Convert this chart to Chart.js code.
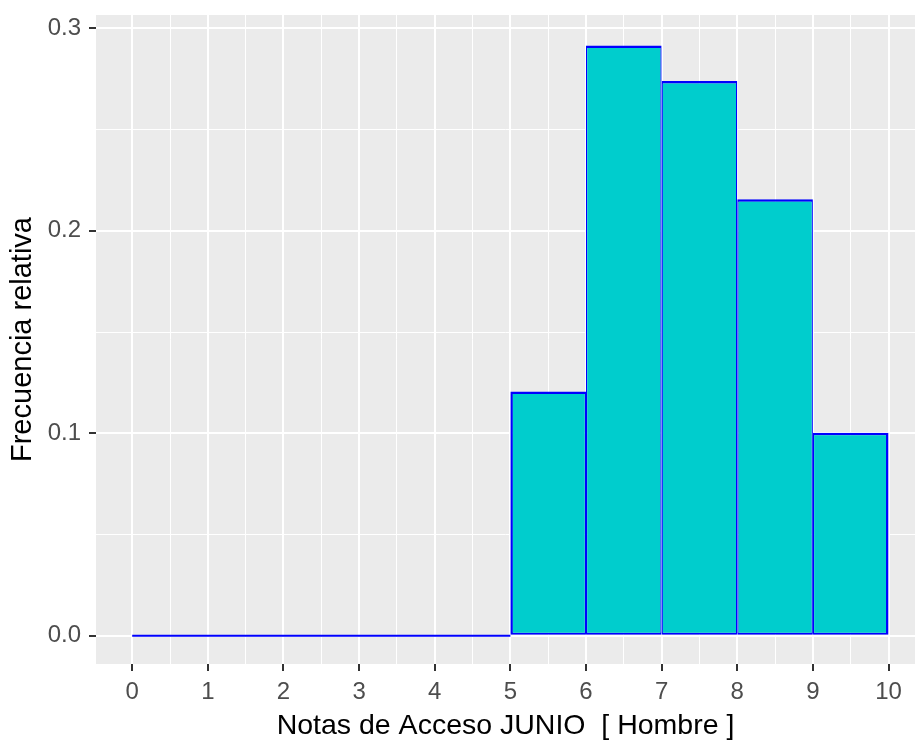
<!DOCTYPE html>
<html>
<head>
<meta charset="utf-8">
<script src="https://cdn.jsdelivr.net/npm/chart.js@4/dist/chart.umd.min.js"></script>
<style>
  body { margin: 0; background: #fff; }
  canvas { display: block; }
</style>
</head>
<body>
<canvas id="hist_chart" width="915" height="743"></canvas>
<script>
// bins of width 1, start of each bin
var binStarts = [0, 1, 2, 3, 4, 5, 6, 7, 8, 9];
var relFreq = [0, 0, 0, 0, 0, 0.1206, 0.2915, 0.2740, 0.2156, 0.1002];
var xTicks = [0, 1, 2, 3, 4, 5, 6, 7, 8, 9, 10];
var yTicks = [0.0, 0.1, 0.2, 0.3];

var fontFamily = "'Liberation Sans', Arial, sans-serif";

var barPoints = [];
var zeroPoints = [];
for (var i = 0; i < binStarts.length; i++) {
    if (relFreq[i] > 0) {
        barPoints.push({ x: binStarts[i] + 0.5, y: relFreq[i] });
    } else {
        zeroPoints.push({ x: binStarts[i], y: 0 });
        zeroPoints.push({ x: binStarts[i] + 1, y: 0 });
    }
}

function isMajor(list, v) {
    for (var i = 0; i < list.length; i++) {
        if (Math.abs(list[i] - v) < 1e-9) return true;
    }
    return false;
}

// major ticks plus the half steps between them (minor grid)
function withMinor(list, scale) {
    var step = list[1] - list[0];
    var out = [];
    var v0 = list[0] - step / 2;
    var last = list[list.length - 1] + step / 2;
    for (var v = v0; v <= last + 1e-9; v += step / 2) {
        var r = Math.round(v * 1000) / 1000;
        if (r >= scale.min && r <= scale.max) out.push({ value: r });
    }
    return out;
}

// shared edges between adjacent bars get half the width on each side
function barBorder(c) {
    var i = c.dataIndex;
    if (i === undefined) return 2;
    var p = barPoints[i];
    var prev = barPoints[i - 1], next = barPoints[i + 1];
    return {
        top: 2.5,
        bottom: 2,
        left: prev && Math.abs(prev.x - (p.x - 1)) < 1e-9 ? 1.25 : 2.5,
        right: next && Math.abs(next.x - (p.x + 1)) < 1e-9 ? 1.25 : 2.5
    };
}

var panelBg = {
    id: "panelBg",
    beforeDraw: function(chart) {
        var a = chart.chartArea;
        var ctx = chart.ctx;
        ctx.save();
        ctx.fillStyle = "#EBEBEB";
        ctx.fillRect(a.left, a.top, a.right - a.left, a.bottom - a.top);
        ctx.restore();
    }
};

var config = {
    type: "bar",
    data: {
        datasets: [{
            type: "bar",
            label: "Frecuencia relativa",
            data: barPoints,
            backgroundColor: "#00CDCD",
            borderColor: "#0000FF",
            borderWidth: barBorder,
            borderSkipped: false,
            barPercentage: 1,
            // the minor ticks halve the spacing chart.js measures
            categoryPercentage: 2
        }, {
            type: "line",
            label: "cero",
            data: zeroPoints,
            borderColor: "#0000FF",
            borderWidth: 2,
            pointRadius: 0,
            fill: false
        }]
    },
    options: {
        responsive: false,
        animation: false,
        layout: { padding: { top: 15, right: 0, left: 0, bottom: 0 } },
        plugins: {
            legend: { display: false },
            tooltip: { enabled: false }
        },
        scales: {
            x: {
                type: "linear",
                offset: false,
                min: -0.4785,
                max: 10.35,
                afterBuildTicks: function(scale) { scale.ticks = withMinor(xTicks, scale); },
                afterFit: function(scale) {
                    scale.height = 79;
                    scale.paddingLeft = 0;
                    scale.paddingRight = 0;
                },
                border: { display: false },
                grid: {
                    offset: false,
                    color: "#FFFFFF",
                    lineWidth: function(c) { return isMajor(xTicks, c.tick.value) ? 2 : 1; },
                    drawTicks: true,
                    tickLength: 7,
                    tickColor: function(c) { return isMajor(xTicks, c.tick.value) ? "#333333" : "rgba(0,0,0,0)"; },
                    tickWidth: 2
                },
                ticks: {
                    autoSkip: false,
                    maxRotation: 0,
                    padding: 7,
                    color: "#4D4D4D",
                    font: { family: fontFamily, size: 24 },
                    callback: function(v) { return isMajor(xTicks, v) ? String(v) : ""; }
                },
                title: {
                    display: true,
                    text: "Notas de Acceso JUNIO  [ Hombre ]",
                    color: "#000000",
                    font: { family: fontFamily, size: 28.5 },
                    padding: { top: 0, bottom: 0 }
                }
            },
            y: {
                min: -0.01397,
                max: 0.30657,
                afterBuildTicks: function(scale) { scale.ticks = withMinor(yTicks, scale); },
                afterFit: function(scale) {
                    scale.width = 96;
                    scale.paddingTop = 0;
                    scale.paddingBottom = 0;
                },
                border: { display: false },
                grid: {
                    color: "#FFFFFF",
                    lineWidth: function(c) { return isMajor(yTicks, c.tick.value) ? 2 : 1; },
                    drawTicks: true,
                    tickLength: 7,
                    tickColor: function(c) { return isMajor(yTicks, c.tick.value) ? "#333333" : "rgba(0,0,0,0)"; },
                    tickWidth: 2
                },
                ticks: {
                    autoSkip: false,
                    padding: 8,
                    color: "#4D4D4D",
                    font: { family: fontFamily, size: 24 },
                    callback: function(v) { return isMajor(yTicks, v) ? v.toFixed(1) : ""; }
                },
                title: {
                    display: true,
                    text: "Frecuencia relativa",
                    color: "#000000",
                    font: { family: fontFamily, size: 29 },
                    padding: { top: 6, bottom: 0 }
                }
            }
        }
    },
    plugins: [panelBg]
};

var hist_chart = new Chart(document.getElementById("hist_chart").getContext("2d"), config);
</script>
</body>
</html>
